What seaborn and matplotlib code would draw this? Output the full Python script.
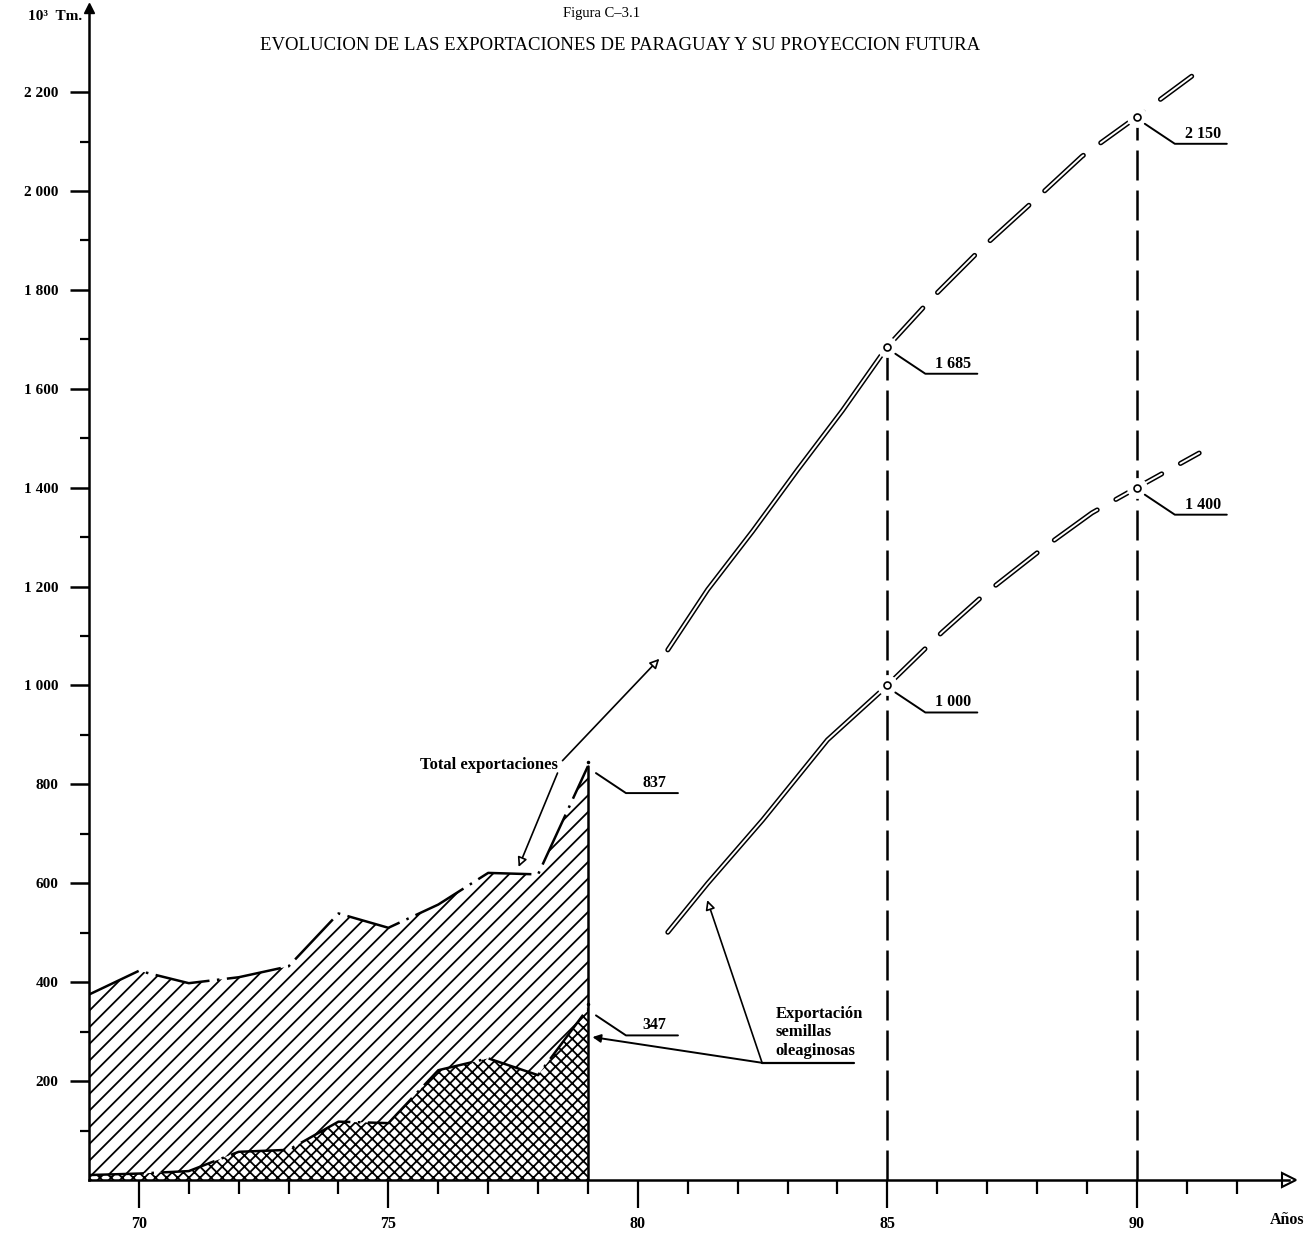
import matplotlib
matplotlib.use("Agg")
import matplotlib.pyplot as plt
import matplotlib.patheffects as pe
import numpy as np
import seaborn as sns

# historical exports, 10^3 t
hist_years = [69, 70, 71, 72, 73, 74, 75, 76, 77, 78, 79]
total_hist = [375, 423, 398, 410, 432, 539, 510, 557, 621, 618, 837]
oil_hist = [10, 13, 18, 57, 61, 118, 115, 222, 246, 212, 347]

# projections
total_proj_years = [80.6, 81.4, 82.3, 83.2, 84.1, 85, 85.9, 86.9, 88.0, 88.9, 90, 91.1]
total_proj = [1072, 1194, 1312, 1436, 1556, 1685, 1784, 1885, 1986, 2070, 2150, 2232]
oil_proj_years = [80.6, 81.4, 82.5, 83.8, 85, 86.1, 87.0, 88.1, 89.1, 90, 91.25]
oil_proj = [501, 600, 728, 890, 1000, 1108, 1189, 1276, 1349, 1400, 1470]

mark_years = [85, 90]
total_marks = [1685, 2150]
oil_marks = [1000, 1400]

label_years = [79, 79, 85, 85, 90, 90]
label_values = [837, 347, 1685, 1000, 2150, 1400]
label_texts = ["837", "347", "1 685", "1 000", "2 150", "1 400"]

y_major = list(range(200, 2201, 200))
y_minor = list(range(100, 2200, 200))
x_major = [70, 75, 80, 85, 90]
x_minor = [71, 72, 73, 74, 76, 77, 78, 79, 81, 82, 83, 84, 86, 87, 88, 89, 91, 92]

sns.set_style("ticks")
plt.rcParams["font.family"] = ["Liberation Serif", "DejaVu Serif"]
plt.rcParams["text.color"] = "black"
plt.rcParams["xtick.color"] = "black"
plt.rcParams["ytick.color"] = "black"
plt.rcParams["axes.edgecolor"] = "black"
plt.rcParams["hatch.linewidth"] = 1.3

fig = plt.figure(figsize=(13.06, 12.36), dpi=100)
ax = fig.add_axes([89 / 1306, 56 / 1236, 1200 / 1306, 1172 / 1236])
ax.set_xlim(69, 93.05)
ax.set_ylim(0, 2370)

# hatched areas
ax.fill_between(hist_years, 0, total_hist, facecolor="white", edgecolor="black",
                hatch="//", linewidth=0, zorder=1)
ax.fill_between(hist_years, 0, oil_hist, facecolor="white", edgecolor="black",
                hatch="xxx", linewidth=0, zorder=2)

dashdot = (0, (22, 3, 1, 3))
sns.lineplot(x=hist_years, y=total_hist, ax=ax, color="black", lw=1.8, linestyle=dashdot, zorder=3)
sns.lineplot(x=hist_years, y=oil_hist, ax=ax, color="black", lw=1.8, linestyle=dashdot, zorder=3)
ax.plot([hist_years[-1], hist_years[-1]], [0, total_hist[-1]], color="black", lw=1.8, zorder=3)
ax.plot([hist_years[-1]] * 2, [total_hist[-1] + 8, oil_hist[-1] + 8], ".", color="black", ms=3, zorder=3)

# hollow projection lines
hollow = [pe.Stroke(linewidth=3.6, foreground="black"), pe.Normal()]
for yrs, vals in [(total_proj_years, total_proj), (oil_proj_years, oil_proj)]:
    i = yrs.index(85)
    sns.lineplot(x=yrs[:i + 1], y=vals[:i + 1], ax=ax, color="white", lw=1.4,
                 solid_capstyle="round", path_effects=hollow, zorder=3)
    sns.lineplot(x=yrs[i:], y=vals[i:], ax=ax, color="white", lw=1.4,
                 linestyle=(0, (27, 11)), dash_capstyle="round", path_effects=hollow, zorder=3)

# vertical dashed guides
for yr, v in zip(mark_years, total_marks):
    ax.plot([yr, yr], [0, v], color="black", lw=1.8, linestyle=(0, (12, 4)), zorder=3)

for vals in [total_marks, oil_marks]:
    ax.plot(mark_years, vals, "o", ms=15, mfc="white", mec="none", zorder=4)
    ax.plot(mark_years, vals, "o", ms=5, mfc="white", mec="black", mew=1.2, zorder=5)


def value_label(x, y, text):
    px, py = ax.transData.transform((x, y))
    pts = np.array([[px + 8, py - 7], [px + 38, py - 27], [px + 90, py - 27]])
    lx, ly = ax.transData.inverted().transform(pts).T
    ax.plot(lx, ly, color="black", lw=1.4, zorder=6)
    tx, ty = ax.transData.inverted().transform((px + 66, py - 25))
    ax.text(tx, ty, text, ha="center", va="bottom", fontsize=11.5, fontweight="bold", zorder=6)


for x, y, t in zip(label_years, label_values, label_texts):
    value_label(x, y, t)

# annotations
open_head = dict(arrowstyle="-|>", ec="black", fc="white", lw=1.2, mutation_scale=14,
                 shrinkA=0, shrinkB=0)
full_head = dict(arrowstyle="-|>", ec="black", fc="black", lw=1.4, mutation_scale=12,
                 shrinkA=0, shrinkB=0)
ax.text(78.39, 839, "Total exportaciones", ha="right", va="center", fontsize=12, fontweight="bold")
ax.annotate("", xy=(80.43, 1054), xytext=(78.49, 848), arrowprops=open_head)
ax.annotate("", xy=(77.61, 633), xytext=(78.39, 823), arrowprops=open_head)

ax.text(82.76, 299, "Exportación\nsemillas\noleaginosas", ha="left", va="center",
        linespacing=1.2, fontsize=12, fontweight="bold")
ax.plot([82.49, 84.33], [237, 237], color="black", lw=1.6)
ax.annotate("", xy=(79.09, 289), xytext=(82.49, 237), arrowprops=full_head)
ax.annotate("", xy=(81.39, 566), xytext=(82.49, 237), arrowprops=open_head)

# axes
sns.despine(ax=ax)
ax.spines["left"].set_linewidth(1.8)
ax.spines["bottom"].set_linewidth(1.8)
ax.set_xticks(x_major)
ax.set_xticks(x_minor, minor=True)
ax.set_xticklabels([str(v) for v in x_major], fontsize=11.5, fontweight="bold")
ax.set_yticks(y_major)
ax.set_yticks(y_minor, minor=True)
ax.set_yticklabels([f"{v:,}".replace(",", " ") for v in y_major], fontsize=11, fontweight="bold")
ax.tick_params(axis="x", which="major", direction="out", length=20, width=1.6, pad=6)
ax.tick_params(axis="x", which="minor", direction="out", length=10, width=1.6)
ax.tick_params(axis="y", which="major", direction="out", length=14, width=1.8, pad=8)
ax.tick_params(axis="y", which="minor", direction="out", length=6.5, width=1.6)
ax.plot(0, 1, "^", transform=ax.transAxes, clip_on=False, color="black", ms=7)
ax.plot(1, 0, ">", transform=ax.transAxes, clip_on=False, mfc="white", mec="black", ms=10, mew=1.5)

fig.text(82 / 1306, 1 - 16 / 1236, "10³  Tm.", ha="right", va="center", fontsize=11, fontweight="bold")
fig.text(1287 / 1306, 1 - 1220 / 1236, "Años", ha="center", va="center", fontsize=11.5, fontweight="bold")
fig.text(602 / 1306, 1 - 13 / 1236, "Figura C–3.1", ha="center", va="center", fontsize=10.5)
fig.text(620 / 1306, 1 - 45 / 1236, "EVOLUCION DE LAS EXPORTACIONES DE PARAGUAY Y SU PROYECCION FUTURA",
         ha="center", va="center", fontsize=13.5)

fig.savefig("out.png", dpi=100)
